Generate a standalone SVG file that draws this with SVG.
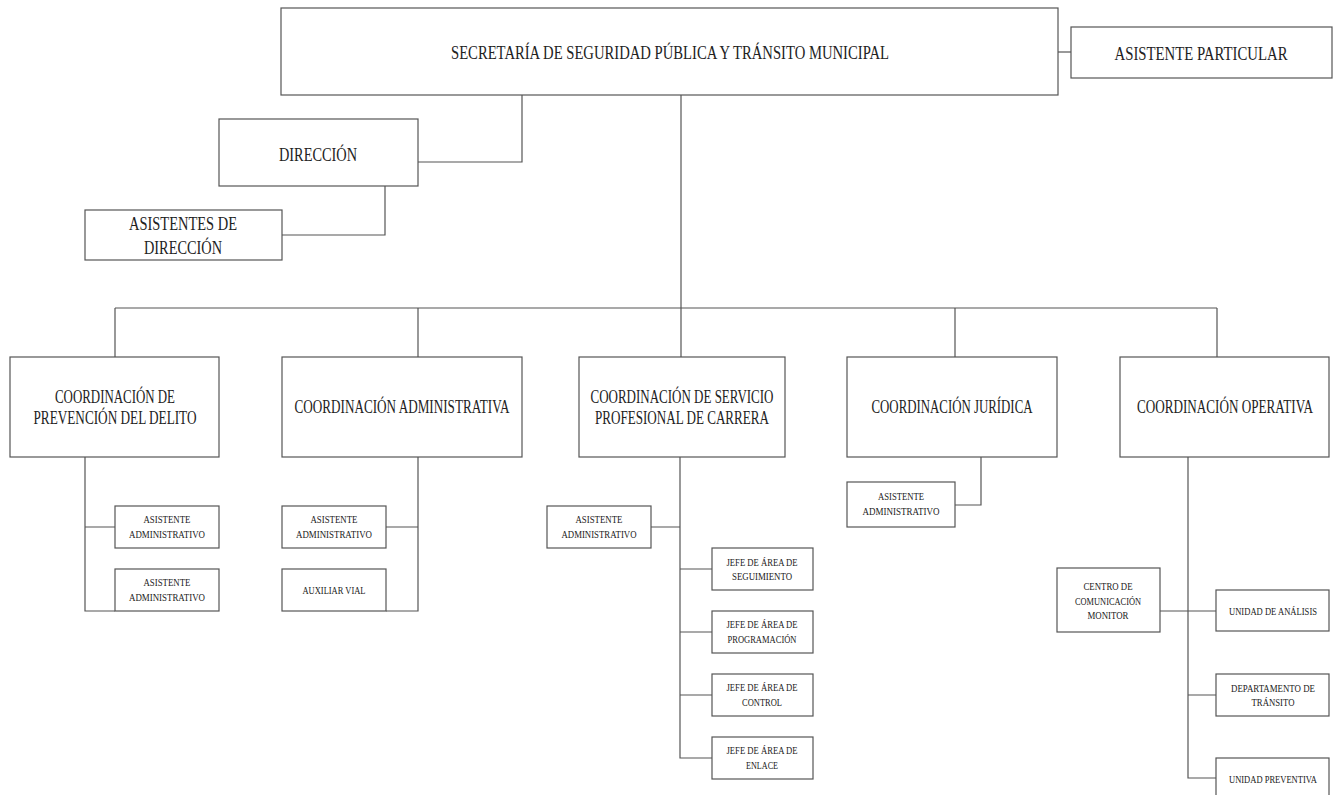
<svg xmlns="http://www.w3.org/2000/svg" width="1335" height="795" viewBox="0 0 1335 795">
<style>
.b{fill:#fff;stroke:#555;stroke-width:1.2}
.c{fill:none;stroke:#555;stroke-width:1.2}
text{font-family:"Liberation Serif","DejaVu Serif",serif;fill:#222;text-anchor:middle}
.L{font-size:18px}
.S{font-size:10.5px}
</style>
<rect width="1335" height="795" fill="#fff"/>
<g id="connectors">
<path class="c" d="M1058 52H1071"/>
<path class="c" d="M522 95V162H418"/>
<path class="c" d="M385 186V235H282"/>
<path class="c" d="M681 95V308"/>
<path class="c" d="M115 308H1217"/>
<path class="c" d="M115 308V357M418 308V357M681 308V357M955 308V357M1217 308V357"/>
<path class="c" d="M85 457V611H115M85 527H115"/>
<path class="c" d="M418 457V611H386M418 527H386"/>
<path class="c" d="M680 457V758H712M680 527H651M680 569H712M680 632H712M680 695H712"/>
<path class="c" d="M981 457V505H955"/>
<path class="c" d="M1188 457V778H1216M1160 611H1216M1188 695H1216"/>
</g>
<g id="secretaria"><rect class="b" x="281" y="8" width="777" height="87"/><text class="L" x="670" y="59" textLength="438" lengthAdjust="spacingAndGlyphs">SECRETARÍA DE SEGURIDAD PÚBLICA Y TRÁNSITO MUNICIPAL</text></g>
<g id="asistente-particular"><rect class="b" x="1071" y="27" width="261" height="51"/><text class="L" x="1201" y="60" textLength="173" lengthAdjust="spacingAndGlyphs">ASISTENTE PARTICULAR</text></g>
<g id="direccion"><rect class="b" x="219" y="119" width="199" height="67"/><text class="L" x="318" y="161" textLength="78" lengthAdjust="spacingAndGlyphs">DIRECCIÓN</text></g>
<g id="asistentes-direccion"><rect class="b" x="85" y="210" width="197" height="50"/><text class="L" x="183" y="230" textLength="108" lengthAdjust="spacingAndGlyphs">ASISTENTES DE</text><text class="L" x="183" y="254" textLength="78" lengthAdjust="spacingAndGlyphs">DIRECCIÓN</text></g>
<g id="coord-prevencion"><rect class="b" x="10" y="357" width="209" height="100"/><text class="L" x="115" y="403" textLength="120" lengthAdjust="spacingAndGlyphs">COORDINACIÓN DE</text><text class="L" x="115" y="424" textLength="163" lengthAdjust="spacingAndGlyphs">PREVENCIÓN DEL DELITO</text></g>
<g id="coord-administrativa"><rect class="b" x="282" y="357" width="240" height="100"/><text class="L" x="402" y="413" textLength="215" lengthAdjust="spacingAndGlyphs">COORDINACIÓN ADMINISTRATIVA</text></g>
<g id="coord-servicio"><rect class="b" x="579" y="357" width="206" height="100"/><text class="L" x="682" y="403" textLength="183" lengthAdjust="spacingAndGlyphs">COORDINACIÓN DE SERVICIO</text><text class="L" x="682" y="424" textLength="174" lengthAdjust="spacingAndGlyphs">PROFESIONAL DE CARRERA</text></g>
<g id="coord-juridica"><rect class="b" x="847" y="357" width="210" height="100"/><text class="L" x="952" y="413" textLength="161" lengthAdjust="spacingAndGlyphs">COORDINACIÓN JURÍDICA</text></g>
<g id="coord-operativa"><rect class="b" x="1120" y="357" width="209" height="100"/><text class="L" x="1225" y="413" textLength="176" lengthAdjust="spacingAndGlyphs">COORDINACIÓN OPERATIVA</text></g>
<g id="prev-asistente-1"><rect class="b" x="115" y="506" width="104" height="42"/><text class="S" x="167" y="523" textLength="47" lengthAdjust="spacingAndGlyphs">ASISTENTE</text><text class="S" x="167" y="538" textLength="76" lengthAdjust="spacingAndGlyphs">ADMINISTRATIVO</text></g>
<g id="prev-asistente-2"><rect class="b" x="115" y="569" width="104" height="42"/><text class="S" x="167" y="586" textLength="47" lengthAdjust="spacingAndGlyphs">ASISTENTE</text><text class="S" x="167" y="601" textLength="76" lengthAdjust="spacingAndGlyphs">ADMINISTRATIVO</text></g>
<g id="adm-asistente"><rect class="b" x="282" y="506" width="104" height="42"/><text class="S" x="334" y="523" textLength="47" lengthAdjust="spacingAndGlyphs">ASISTENTE</text><text class="S" x="334" y="538" textLength="76" lengthAdjust="spacingAndGlyphs">ADMINISTRATIVO</text></g>
<g id="adm-auxiliar"><rect class="b" x="282" y="569" width="104" height="42"/><text class="S" x="334" y="594" textLength="63" lengthAdjust="spacingAndGlyphs">AUXILIAR VIAL</text></g>
<g id="serv-asistente"><rect class="b" x="547" y="506" width="104" height="42"/><text class="S" x="599" y="523" textLength="47" lengthAdjust="spacingAndGlyphs">ASISTENTE</text><text class="S" x="599" y="538" textLength="75" lengthAdjust="spacingAndGlyphs">ADMINISTRATIVO</text></g>
<g id="jefe-seguimiento"><rect class="b" x="712" y="548" width="101" height="42"/><text class="S" x="762" y="566" textLength="71" lengthAdjust="spacingAndGlyphs">JEFE DE ÁREA DE</text><text class="S" x="762" y="580" textLength="60" lengthAdjust="spacingAndGlyphs">SEGUIMIENTO</text></g>
<g id="jefe-programacion"><rect class="b" x="712" y="611" width="101" height="42"/><text class="S" x="762" y="628" textLength="71" lengthAdjust="spacingAndGlyphs">JEFE DE ÁREA DE</text><text class="S" x="762" y="643" textLength="69" lengthAdjust="spacingAndGlyphs">PROGRAMACIÓN</text></g>
<g id="jefe-control"><rect class="b" x="712" y="674" width="101" height="42"/><text class="S" x="762" y="691" textLength="71" lengthAdjust="spacingAndGlyphs">JEFE DE ÁREA DE</text><text class="S" x="762" y="706" textLength="40" lengthAdjust="spacingAndGlyphs">CONTROL</text></g>
<g id="jefe-enlace"><rect class="b" x="712" y="737" width="101" height="42"/><text class="S" x="762" y="754" textLength="71" lengthAdjust="spacingAndGlyphs">JEFE DE ÁREA DE</text><text class="S" x="762" y="769" textLength="32" lengthAdjust="spacingAndGlyphs">ENLACE</text></g>
<g id="jur-asistente"><rect class="b" x="847" y="482" width="108" height="45"/><text class="S" x="901" y="500" textLength="46" lengthAdjust="spacingAndGlyphs">ASISTENTE</text><text class="S" x="901" y="515" textLength="77" lengthAdjust="spacingAndGlyphs">ADMINISTRATIVO</text></g>
<g id="centro-comunicacion"><rect class="b" x="1057" y="568" width="103" height="64"/><text class="S" x="1108" y="590" textLength="49" lengthAdjust="spacingAndGlyphs">CENTRO DE</text><text class="S" x="1108" y="605" textLength="66" lengthAdjust="spacingAndGlyphs">COMUNICACIÓN</text><text class="S" x="1108" y="619" textLength="41" lengthAdjust="spacingAndGlyphs">MONITOR</text></g>
<g id="unidad-analisis"><rect class="b" x="1216" y="590" width="113" height="41"/><text class="S" x="1273" y="615" textLength="88" lengthAdjust="spacingAndGlyphs">UNIDAD DE ANÁLISIS</text></g>
<g id="departamento-transito"><rect class="b" x="1216" y="674" width="113" height="42"/><text class="S" x="1273" y="692" textLength="84" lengthAdjust="spacingAndGlyphs">DEPARTAMENTO DE</text><text class="S" x="1273" y="706" textLength="43" lengthAdjust="spacingAndGlyphs">TRÁNSITO</text></g>
<g id="unidad-preventiva"><rect class="b" x="1216" y="758" width="113" height="42"/><text class="S" x="1273" y="783" textLength="88" lengthAdjust="spacingAndGlyphs">UNIDAD PREVENTIVA</text></g>
</svg>
